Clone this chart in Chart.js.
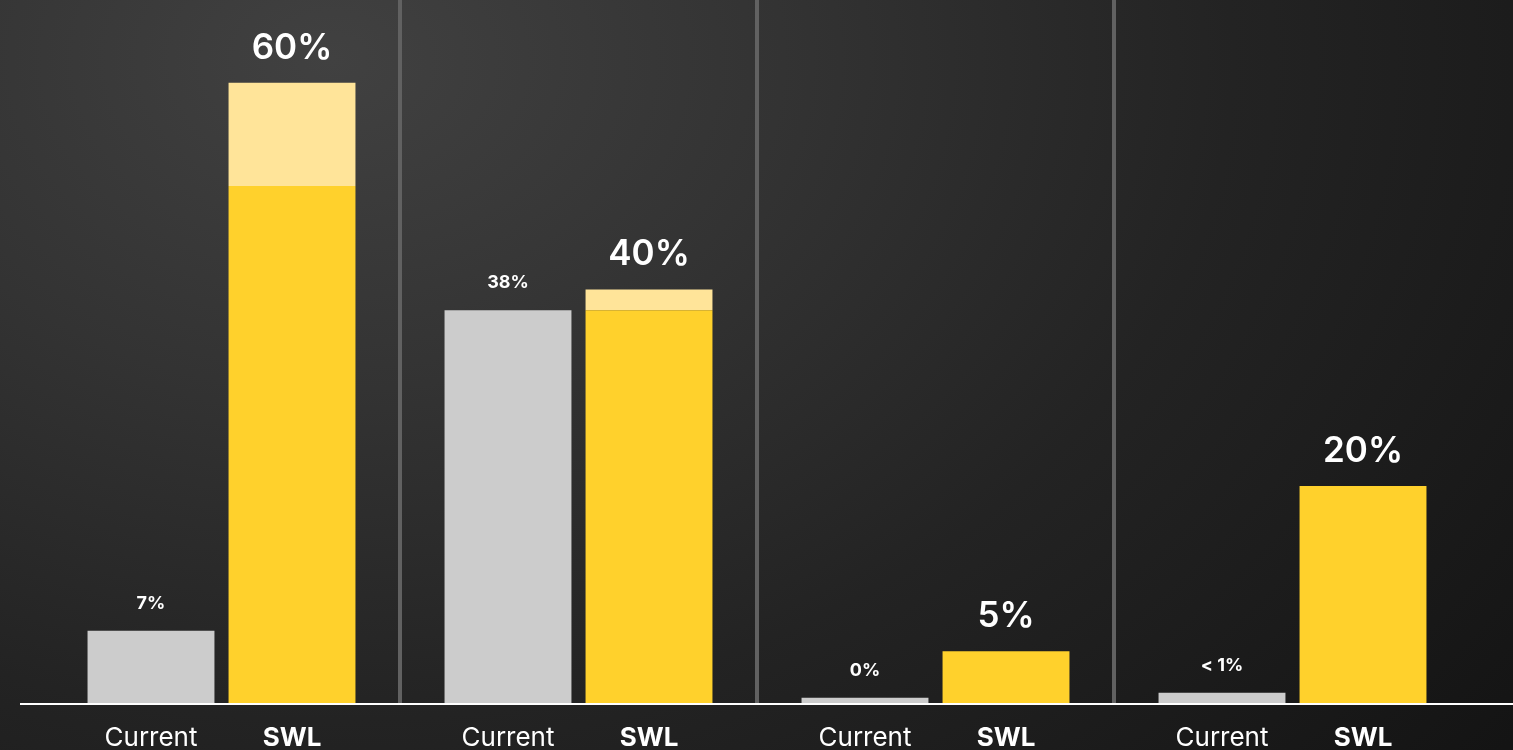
<!DOCTYPE html>
<html>
<head>
<meta charset="utf-8">
<script src="https://cdn.jsdelivr.net/npm/chart.js@4"></script>
<style>
  html, body { margin: 0; padding: 0; overflow: hidden; }
  body {
    width: 1513px; height: 750px;
    background: radial-gradient(ellipse 1500px 1100px at 22% 8%, #414141 0%, #333333 30%, #232323 60%, #141414 100%);
  }
  canvas { display: block; }
</style>
</head>
<body>
<canvas id="c" width="1513" height="750"></canvas>
<script>
const groups = ['G1', 'G2', 'G3', 'G4'];
const currentValues = [7, 38, 0.5, 1];
const swlBaseValues = [50, 38, 5, 21];
const swlExtraValues = [10, 2, 0, 0];
const currentLabels = ['7%', '38%', '0%', '< 1%'];
const swlLabels = ['60%', '40%', '5%', '20%'];
const barNames = ['Current', 'SWL'];
const yMax = 68;

const FONT = 'Inter, "Open Sans", sans-serif';

const labelPlugin = {
  id: 'labels',
  afterDatasetsDraw(chart) {
    const ctx = chart.ctx;
    const area = chart.chartArea;
    const y0 = chart.scales.y.getPixelForValue(0);
    // baseline
    ctx.save();
    ctx.strokeStyle = '#ffffff';
    ctx.lineWidth = 2;
    ctx.beginPath();
    ctx.moveTo(20, y0 + 1);
    ctx.lineTo(chart.width, y0 + 1);
    ctx.stroke();

    const mCur = chart.getDatasetMeta(0).data;
    const mBase = chart.getDatasetMeta(1).data;
    const mExtra = chart.getDatasetMeta(2).data;
    ctx.fillStyle = '#ffffff';
    ctx.textAlign = 'center';
    ctx.textBaseline = 'alphabetic';
    groups.forEach((g, i) => {
      const c = mCur[i];
      ctx.font = '700 18px ' + FONT;
      ctx.fillText(currentLabels[i], c.x, c.y - 22);
      const top = Math.min(mBase[i].y, mExtra[i].y);
      ctx.font = '600 35px ' + FONT;
      ctx.fillText(swlLabels[i], mBase[i].x, top - 24);
      ctx.font = '400 26px ' + FONT;
      ctx.fillText(barNames[0], c.x, area.bottom + 43);
      ctx.font = '700 26px ' + FONT;
      ctx.fillText(barNames[1], mBase[i].x, area.bottom + 43);
    });
    ctx.restore();
  }
};

new Chart(document.getElementById('c'), {
  type: 'bar',
  data: {
    labels: groups,
    datasets: [
      { label: 'Current', data: currentValues, backgroundColor: '#cccccc', stack: 'cur' },
      { label: 'SWL', data: swlBaseValues, backgroundColor: '#ffd12c', stack: 'swl' },
      { label: 'SWL range', data: swlExtraValues, backgroundColor: '#ffe499', stack: 'swl' }
    ]
  },
  options: {
    responsive: false,
    animation: false,
    events: [],
    layout: { padding: { left: 43, right: 42, top: 0, bottom: 47 } },
    datasets: { bar: { categoryPercentage: 0.79, barPercentage: 0.9, borderWidth: 0 } },
    plugins: { legend: { display: false }, tooltip: { enabled: false } },
    scales: {
      x: {
        stacked: true,
        ticks: { display: false },
        border: { display: false },
        grid: {
          offset: true,
          drawTicks: false,
          lineWidth: 4,
          color: (ctx) => (ctx.type !== 'tick' || ctx.index === 0) ? 'rgba(0,0,0,0)' : '#616161'
        }
      },
      y: { stacked: true, display: false, min: 0, max: yMax }
    }
  },
  plugins: [labelPlugin]
});
</script>
</body>
</html>
